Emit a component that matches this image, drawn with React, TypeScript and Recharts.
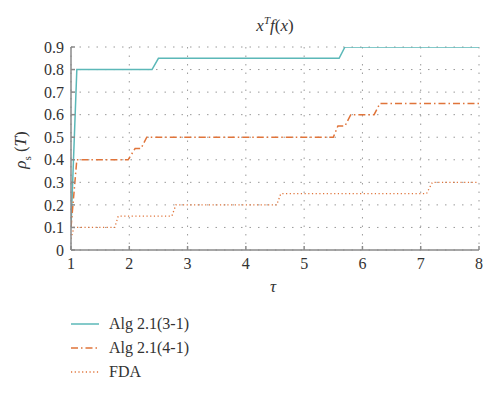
import React from "react";
import { LineChart, Line, XAxis, YAxis, CartesianGrid } from "recharts";

const xTicks = [1, 2, 3, 4, 5, 6, 7, 8];
const yTicks = [0, 0.1, 0.2, 0.3, 0.4, 0.5, 0.6, 0.7, 0.8, 0.9];

const alg31 = [
  { x: 1, y: 0.1 },
  { x: 1.1, y: 0.8 },
  { x: 2.39, y: 0.8 },
  { x: 2.5, y: 0.85 },
  { x: 5.6, y: 0.85 },
  { x: 5.7, y: 0.9 },
  { x: 8, y: 0.9 },
];

const alg41 = [
  { x: 1, y: 0.1 },
  { x: 1.1, y: 0.4 },
  { x: 1.98, y: 0.4 },
  { x: 2.1, y: 0.45 },
  { x: 2.2, y: 0.45 },
  { x: 2.3, y: 0.5 },
  { x: 5.5, y: 0.5 },
  { x: 5.58, y: 0.55 },
  { x: 5.7, y: 0.55 },
  { x: 5.8, y: 0.6 },
  { x: 6.2, y: 0.6 },
  { x: 6.3, y: 0.65 },
  { x: 8, y: 0.65 },
];

const fda = [
  { x: 1, y: 0.05 },
  { x: 1.05, y: 0.1 },
  { x: 1.75, y: 0.1 },
  { x: 1.81, y: 0.15 },
  { x: 2.73, y: 0.15 },
  { x: 2.8, y: 0.2 },
  { x: 4.53, y: 0.2 },
  { x: 4.6, y: 0.25 },
  { x: 7.1, y: 0.25 },
  { x: 7.2, y: 0.3 },
  { x: 8, y: 0.3 },
];

const TEAL = "#5bb8b8";
const ORANGE = "#e0743a";
const AXIS = "#8a8a8a";
const FONT = "'Liberation Serif', 'DejaVu Serif', serif";

const series = [
  { name: "Alg 2.1(3-1)", data: alg31, color: TEAL, dash: undefined as string | undefined, width: 1.5 },
  { name: "Alg 2.1(4-1)", data: alg41, color: ORANGE, dash: "7 3 1.5 3", width: 1.5 },
  { name: "FDA", data: fda, color: ORANGE, dash: "1.2 2.5", width: 1.3 },
];

export default function App() {
  return (
    <div style={{ position: "absolute", left: 0, top: 0, width: 500, height: 393, background: "#fff", fontFamily: FONT }}>
      <style>{`.recharts-text, .recharts-cartesian-axis-tick-value { font-family: ${FONT}; }`}</style>
      <LineChart width={500} height={393} margin={{ top: 47, right: 21, left: 0, bottom: 113 }} style={{ fontFamily: FONT }}>
        <CartesianGrid stroke="#9a9a9a" strokeDasharray="1.5 7" strokeWidth={1} />
        <XAxis
          type="number"
          dataKey="x"
          domain={[1, 8]}
          ticks={xTicks}
          interval={0}
          allowDataOverflow
          height={30}
          stroke={AXIS}
          strokeWidth={1.5}
          tickSize={-4}
          tickMargin={12}
          tick={{ fill: "#333", fontSize: 16, fontFamily: FONT }}
          tickLine={{ stroke: AXIS }}
        />
        <XAxis
          xAxisId="t"
          orientation="top"
          type="number"
          domain={[1, 8]}
          ticks={xTicks}
          interval={0}
          height={0}
          stroke="#7a7a7a"
          strokeWidth={1.5}
          tickSize={-4}
          tick={false}
        />
        <YAxis
          type="number"
          domain={[0, 0.9]}
          ticks={yTicks}
          interval={0}
          allowDataOverflow
          width={71}
          stroke={AXIS}
          strokeWidth={1.5}
          tickSize={-4}
          tickMargin={11}
          tick={{ fill: "#333", fontSize: 16, fontFamily: FONT }}
          tickLine={{ stroke: AXIS }}
        />
        <YAxis
          yAxisId="r"
          orientation="right"
          type="number"
          domain={[0, 0.9]}
          ticks={yTicks}
          interval={0}
          width={0}
          stroke="#7a7a7a"
          strokeWidth={2}
          tickSize={-4}
          tick={false}
        />
        {series.map((s) => (
          <Line
            key={s.name}
            data={s.data}
            dataKey="y"
            name={s.name}
            type="linear"
            stroke={s.color}
            strokeWidth={s.width}
            strokeDasharray={s.dash}
            dot={false}
            activeDot={false}
            isAnimationActive={false}
          />
        ))}
      </LineChart>

      <div style={{ position: "absolute", left: 0, width: 550, top: 14, textAlign: "center", fontSize: 17, fontStyle: "italic", color: "#333" }}>
        x<sup style={{ fontSize: 11 }}>T</sup>f<span style={{ fontStyle: "normal" }}>(</span>x<span style={{ fontStyle: "normal" }}>)</span>
      </div>

      <div
        style={{
          position: "absolute",
          left: 22,
          top: 150,
          transform: "translate(-50%, -50%) rotate(-90deg)",
          whiteSpace: "nowrap",
          fontSize: 17,
          color: "#333",
        }}
      >
        <i>ρ</i>
        <sub style={{ fontSize: 11 }}>s</sub> (<i>T</i>)
      </div>

      <div style={{ position: "absolute", left: 270, top: 277, fontSize: 17, fontStyle: "italic", color: "#333" }}>τ</div>

      <div style={{ position: "absolute", left: 71, top: 312 }}>
        {series.map((s) => (
          <div key={s.name} style={{ display: "flex", alignItems: "center", height: 24, fontSize: 16, color: "#333" }}>
            <svg width={30} height={10} style={{ marginRight: 8 }}>
              <line x1={0} y1={5} x2={28} y2={5} stroke={s.color} strokeWidth={s.width} strokeDasharray={s.dash} />
            </svg>
            <span>{s.name}</span>
          </div>
        ))}
      </div>
    </div>
  );
}
